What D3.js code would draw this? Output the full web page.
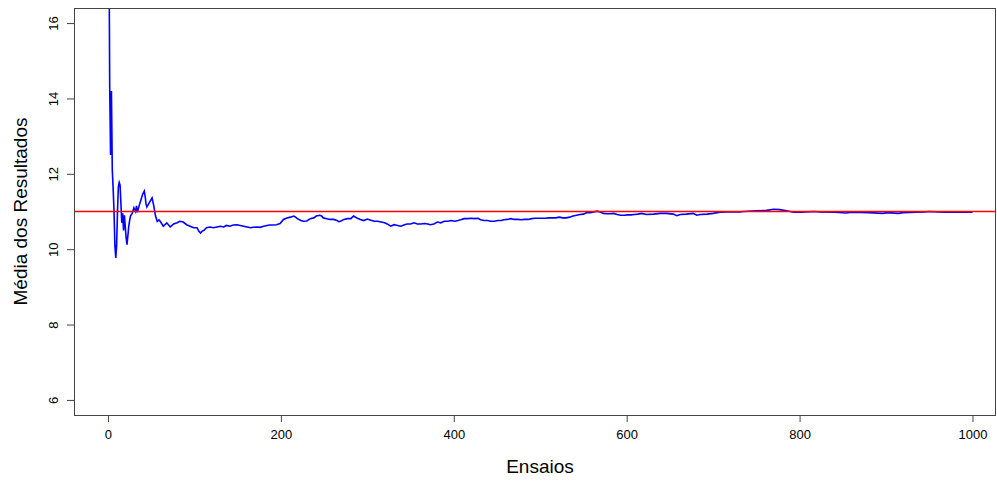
<!DOCTYPE html>
<html>
<head>
<meta charset="utf-8">
<script src="https://cdn.jsdelivr.net/npm/d3@7"></script>
<style>
  body { margin: 0; background: #fff; }
  text { font-family: "Liberation Sans", Arial, sans-serif; fill: #000; }
  .axis path, .axis line { stroke: #444; }
</style>
</head>
<body>
<div id="chart"></div>
<script>
// running mean of the results (trial number -> mean)
var trials = [1,2,3,4,5,6,7,8,9,10,11,12,13,14,15,16,17,18,19,20,21,22,23,24,25,26,28,30,32,33,34,36,38,40,42,43,44,45,47,49,51,53,55,57,59,61,64,68,72,76,80,83,87,91,95,99,103,105,107,109,111,114,118,122,126,130,134,137,141,145,149,153,157,161,165,168,172,176,180,184,187,191,195,199,203,207,211,215,217,219,223,226,230,234,238,241,245,247,249,253,257,261,265,267,269,273,277,281,284,288,292,296,300,304,308,312,316,320,323,327,331,335,339,343,346,350,354,358,362,366,370,373,377,381,385,389,393,397,401,405,408,412,416,420,424,428,431,435,439,443,447,451,455,458,462,466,470,474,478,482,486,490,494,498,502,506,510,514,518,522,526,530,534,538,542,546,550,554,558,562,566,570,573,577,581,585,589,593,597,601,605,609,613,617,623,631,639,646,654,658,662,669,677,681,685,693,700,708,716,723,731,735,750,762,770,777,785,793,800,808,816,823,840,854,860,880,896,902,914,920,935,945,950,960,970,985,1000];
var means = [19.0,14.3,12.5,14.2,12.1,11.6,11.0,10.1,9.77,10.1,11.0,11.65,11.77,11.7,11.2,10.7,10.95,10.5,10.9,10.6,10.3,10.12,10.35,10.6,10.75,10.88,10.95,11.1,11.0,11.15,10.98,11.15,11.3,11.45,11.54,11.4,11.2,11.12,11.2,11.28,11.36,11.15,10.88,10.74,10.78,10.72,10.61,10.70,10.59,10.67,10.70,10.74,10.72,10.65,10.61,10.57,10.57,10.48,10.43,10.48,10.50,10.57,10.59,10.57,10.59,10.61,10.59,10.63,10.61,10.64,10.65,10.63,10.61,10.59,10.57,10.58,10.59,10.58,10.61,10.63,10.64,10.64,10.65,10.68,10.79,10.83,10.85,10.88,10.85,10.81,10.76,10.74,10.75,10.81,10.83,10.88,10.90,10.88,10.83,10.81,10.79,10.79,10.76,10.73,10.74,10.79,10.81,10.81,10.88,10.83,10.79,10.76,10.80,10.77,10.74,10.74,10.72,10.70,10.67,10.61,10.65,10.63,10.61,10.65,10.67,10.67,10.70,10.67,10.67,10.68,10.67,10.65,10.67,10.72,10.70,10.74,10.74,10.76,10.74,10.76,10.78,10.81,10.81,10.82,10.81,10.82,10.78,10.76,10.76,10.74,10.74,10.76,10.76,10.78,10.79,10.81,10.79,10.79,10.78,10.79,10.79,10.81,10.82,10.82,10.82,10.82,10.83,10.83,10.83,10.85,10.83,10.83,10.85,10.88,10.90,10.92,10.93,10.97,10.97,10.99,11.01,10.98,10.95,10.94,10.94,10.95,10.92,10.90,10.90,10.91,10.91,10.92,10.93,10.95,10.92,10.93,10.95,10.95,10.93,10.89,10.92,10.93,10.95,10.90,10.92,10.93,10.95,10.98,10.99,10.99,10.99,11.0,11.02,11.03,11.06,11.05,11.02,10.98,10.98,10.99,11.0,10.99,10.98,10.96,10.98,10.97,10.95,10.97,10.95,10.97,10.98,10.99,11.0,10.99,10.98,10.98,10.98];

var xTicks = [0, 200, 400, 600, 800, 1000];
var yTicks = [6, 8, 10, 12, 14, 16];
var expected = 11;

var width = 997, height = 482;
var mLeft = 74, mTop = 8, mRight = 996, mBottom = 415;

var svg = d3.select("#chart").append("svg")
    .attr("width", width)
    .attr("height", height);

// R pads the range by 4%; the picture is cut a little on the right
var x = d3.scaleLinear().domain([-39.3, 1027.2]).range([mLeft, mRight]);
var y = d3.scaleLinear().domain([5.6, 16.4]).range([mBottom, mTop]);

svg.append("clipPath").attr("id", "clip")
    .append("rect")
    .attr("x", mLeft).attr("y", mTop)
    .attr("width", mRight - mLeft).attr("height", mBottom - mTop);

var line = d3.line()
    .x(function(d, i) { return x(trials[i]); })
    .y(function(d) { return y(d); });

svg.append("path")
    .datum(means)
    .attr("clip-path", "url(#clip)")
    .attr("fill", "none")
    .attr("stroke", "#0000ff")
    .attr("stroke-width", 1.6)
    .attr("d", line);

svg.append("line")
    .attr("x1", mLeft).attr("x2", mRight)
    .attr("y1", y(expected)).attr("y2", y(expected))
    .attr("stroke", "#ff0000")
    .attr("stroke-width", 1.5);

// axes
var gx = svg.append("g")
    .attr("class", "axis")
    .attr("transform", "translate(0," + mBottom + ")")
    .call(d3.axisBottom(x).tickValues(xTicks).tickFormat(d3.format("d"))
        .tickSize(7).tickPadding(8).tickSizeOuter(0));
gx.select(".domain").remove();
gx.selectAll("text").style("font-size", "13px").attr("dy", "0.71em");

var gy = svg.append("g")
    .attr("class", "axis")
    .attr("transform", "translate(" + mLeft + ",0)")
    .call(d3.axisLeft(y).tickValues(yTicks).tickFormat(d3.format("d"))
        .tickSize(7).tickSizeOuter(0));
gy.select(".domain").remove();
gy.selectAll("text")
    .style("font-size", "13px")
    .style("text-anchor", "middle")
    .attr("x", 0)
    .attr("y", -16)
    .attr("dy", null)
    .attr("transform", "rotate(-90)");

// box
svg.append("rect")
    .attr("x", mLeft + 0.5).attr("y", mTop + 0.5)
    .attr("width", mRight - mLeft - 1).attr("height", mBottom - mTop)
    .attr("fill", "none")
    .attr("stroke", "#444");

svg.append("text")
    .attr("x", 540)
    .attr("y", 473)
    .style("font-size", "19px")
    .style("text-anchor", "middle")
    .text("Ensaios");

svg.append("text")
    .attr("transform", "translate(27," + (mTop + mBottom) / 2 + ") rotate(-90)")
    .style("font-size", "19px")
    .style("text-anchor", "middle")
    .text("Média dos Resultados");
</script>
</body>
</html>
